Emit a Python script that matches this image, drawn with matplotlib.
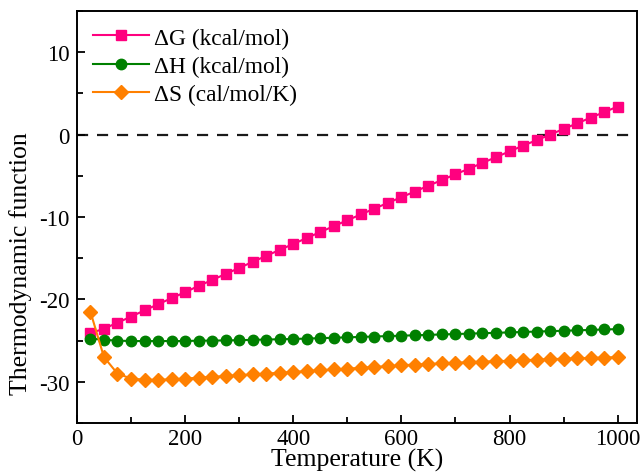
import matplotlib
matplotlib.use('Agg')
import matplotlib.pyplot as plt
from matplotlib.ticker import MultipleLocator

plt.rcParams['font.family'] = ['Liberation Serif', 'DejaVu Serif']
plt.rcParams['axes.unicode_minus'] = False

temps = [25, 50, 75, 100, 125, 150, 175, 200, 225, 250,
         275, 300, 325, 350, 375, 400, 425, 450, 475, 500,
         525, 550, 575, 600, 625, 650, 675, 700, 725, 750,
         775, 800, 825, 850, 875, 900, 925, 950, 975, 1000]

dG = [-24.1, -23.55, -22.83, -22.09, -21.33, -20.59, -19.85, -19.13, -18.36, -17.65,
      -16.91, -16.19, -15.44, -14.72, -13.99, -13.28, -12.55, -11.83, -11.11, -10.4,
      -9.69, -8.99, -8.29, -7.6, -6.91, -6.2, -5.52, -4.81, -4.14, -3.44,
      -2.74, -2.04, -1.34, -0.69, -0.01, 0.68, 1.36, 2.05, 2.72, 3.4]

dH = [-24.75, -24.9, -25.0, -25.05, -25.05, -25.05, -25.05, -25.05, -25.0, -25.0,
      -24.97, -24.95, -24.9, -24.87, -24.83, -24.8, -24.75, -24.7, -24.65, -24.6,
      -24.55, -24.5, -24.45, -24.4, -24.35, -24.3, -24.25, -24.2, -24.15, -24.1,
      -24.05, -24.0, -23.95, -23.9, -23.85, -23.8, -23.75, -23.7, -23.65, -23.6]

dS = [-21.5, -27.0, -29.0, -29.6, -29.75, -29.75, -29.7, -29.6, -29.5, -29.4,
      -29.3, -29.2, -29.1, -29.0, -28.9, -28.8, -28.7, -28.6, -28.5, -28.4,
      -28.3, -28.2, -28.1, -28.0, -27.9, -27.85, -27.75, -27.7, -27.6, -27.55,
      -27.5, -27.45, -27.4, -27.3, -27.25, -27.2, -27.15, -27.1, -27.05, -27.0]

labels = ['\u0394G (kcal/mol)', '\u0394H (kcal/mol)', '\u0394S (cal/mol/K)']

fig = plt.figure(figsize=(6.41, 4.77), dpi=100)
ax = fig.add_axes([0.120, 0.111, 0.874, 0.864])

# zero reference line
ax.axhline(0, xmin=0, xmax=0.985, color='#1a1a1a', linestyle=(0, (5, 4)), linewidth=1.6, zorder=1)

ax.plot(temps, dG, color='#ff007f', marker='s', markersize=6.5, linewidth=1.5, label=labels[0])
ax.plot(temps, dH, color='#008000', marker='o', markersize=7.5, linewidth=1.5, label=labels[1])
ax.plot(temps, dS, color='#ff8000', marker='D', markersize=7, linewidth=1.5, label=labels[2])

ax.set_xlim(0, 1036)
ax.set_ylim(-35, 15)
ax.xaxis.set_major_locator(MultipleLocator(200))
ax.xaxis.set_minor_locator(MultipleLocator(100))
ax.yaxis.set_major_locator(MultipleLocator(10))
ax.yaxis.set_minor_locator(MultipleLocator(5))
ax.tick_params(which='both', direction='in', labelsize=16.5, width=1.3)
ax.tick_params(which='major', length=6)
ax.tick_params(axis='y', pad=5)
ax.tick_params(which='minor', length=4)
for sp in ax.spines.values():
    sp.set_linewidth(1.4)

ax.set_xlabel('Temperature (K)', fontsize=18.5, labelpad=-1)
ax.set_ylabel('Thermodynamic function', fontsize=18.5)
ax.yaxis.set_label_coords(-0.08, 0.39)

ax.legend(loc='upper left', frameon=False, fontsize=16.8, handlelength=2.4,
          handletextpad=0.2, labelspacing=0.3, borderaxespad=0.3,
          bbox_to_anchor=(0.0, 1.0))

fig.savefig('out.png', dpi=100)
